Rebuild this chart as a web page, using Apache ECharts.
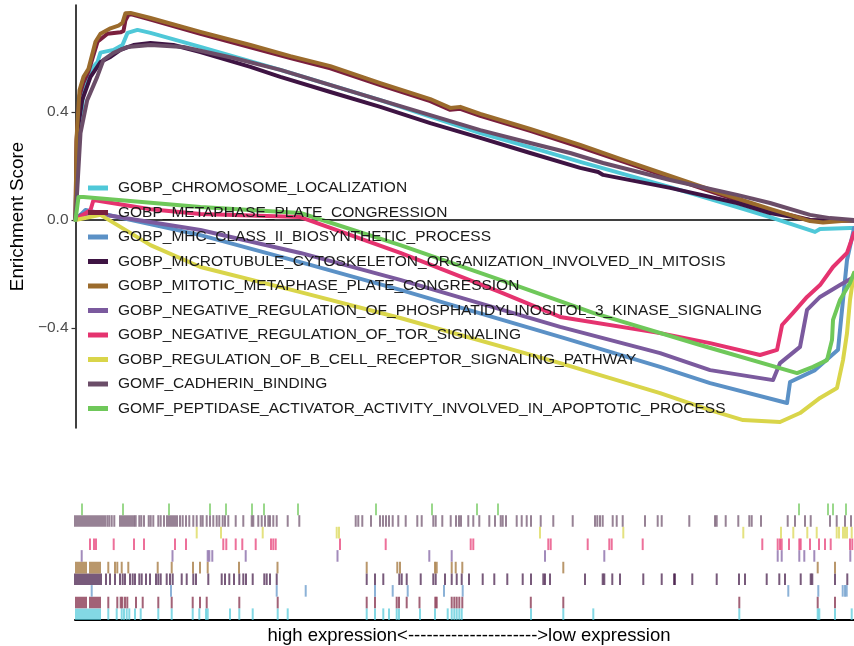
<!DOCTYPE html>
<html>
<head>
<meta charset="utf-8">
<title>GSEA running enrichment scores</title>
<script src="https://cdn.jsdelivr.net/npm/echarts@6/dist/echarts.min.js"></script>
<style>
  html, body { margin: 0; padding: 0; background: #ffffff; }
  #chart { width: 854px; height: 646px; }
</style>
</head>
<body>
<div id="chart"></div>
<script>
// Gene sets in legend order
const geneSets = [
  "GOBP_CHROMOSOME_LOCALIZATION",
  "GOBP_METAPHASE_PLATE_CONGRESSION",
  "GOBP_MHC_CLASS_II_BIOSYNTHETIC_PROCESS",
  "GOBP_MICROTUBULE_CYTOSKELETON_ORGANIZATION_INVOLVED_IN_MITOSIS",
  "GOBP_MITOTIC_METAPHASE_PLATE_CONGRESSION",
  "GOBP_NEGATIVE_REGULATION_OF_PHOSPHATIDYLINOSITOL_3_KINASE_SIGNALING",
  "GOBP_NEGATIVE_REGULATION_OF_TOR_SIGNALING",
  "GOBP_REGULATION_OF_B_CELL_RECEPTOR_SIGNALING_PATHWAY",
  "GOMF_CADHERIN_BINDING",
  "GOMF_PEPTIDASE_ACTIVATOR_ACTIVITY_INVOLVED_IN_APOPTOTIC_PROCESS"
];

// Ranked gene list length (position along the x axis)
const rankMax = 7790;

// Y axis tick values
const yTicks = [-0.4, 0, 0.4];

// Running enrichment score, [rank, score]
const esChromosome = [[0,0],[30,0.26],[80,0.48],[150,0.556],[220,0.585],[250,0.62],[380,0.63],[470,0.648],[520,0.693],[620,0.704],[750,0.693],[1250,0.641],[2050,0.556],[3050,0.444],[4050,0.322],[4650,0.259],[5050,0.215],[5950,0.122],[6620,0.048],[6950,0.011],[7400,-0.044],[7450,-0.033],[7750,-0.03],[7790,-0.03]];
const esMetaphase = [[0,0],[10,0.29],[40,0.46],[80,0.51],[130,0.55],[220,0.66],[320,0.69],[450,0.695],[480,0.70],[500,0.74],[530,0.76],[560,0.762],[750,0.742],[1250,0.690],[1750,0.640],[2150,0.600],[2550,0.562],[3050,0.500],[3550,0.440],[3750,0.408],[3850,0.412],[4050,0.386],[4550,0.330],[5050,0.270],[5450,0.220],[5950,0.157],[6450,0.094],[6950,0.036],[7350,0.0],[7480,-0.004],[7790,0]];
const esMhc = [[0,0],[100,0.037],[1250,-0.056],[2250,-0.156],[3250,-0.259],[4850,-0.433],[5850,-0.544],[6350,-0.604],[7120,-0.678],[7150,-0.600],[7400,-0.556],[7630,-0.481],[7680,-0.296],[7720,-0.148],[7780,-0.048],[7790,-0.03]];
const esMicrotubule = [[0,0],[17,0.322],[67,0.444],[150,0.53],[250,0.585],[350,0.604],[450,0.63],[580,0.648],[750,0.656],[980,0.648],[1250,0.622],[1750,0.567],[2050,0.530],[2550,0.474],[3050,0.419],[3550,0.359],[4050,0.304],[4550,0.248],[5050,0.193],[5230,0.178],[5280,0.167],[5950,0.119],[6620,0.063],[6950,0.026],[7350,0.0],[7790,-0.003]];
const esMitotic = [[0,0],[10,0.30],[40,0.48],[80,0.53],[130,0.56],[200,0.66],[250,0.69],[350,0.71],[430,0.72],[470,0.73],[500,0.766],[550,0.767],[750,0.748],[1250,0.697],[1750,0.648],[2150,0.607],[2550,0.570],[3050,0.507],[3550,0.448],[3750,0.415],[3850,0.419],[4050,0.393],[4550,0.337],[5050,0.278],[5450,0.226],[5950,0.163],[6450,0.100],[6950,0.041],[7350,-0.004],[7480,-0.009],[7790,0]];
const esPi3k = [[0,0],[50,0.019],[180,0.026],[1250,-0.037],[2250,-0.122],[3250,-0.222],[4850,-0.396],[5850,-0.493],[6350,-0.556],[6980,-0.593],[7050,-0.530],[7250,-0.470],[7320,-0.333],[7450,-0.285],[7650,-0.241],[7790,-0.211]];
const esTor = [[0,0],[150,0.037],[180,0.074],[750,0.04],[1250,0.022],[2250,0.011],[3250,-0.122],[4250,-0.267],[4850,-0.359],[5850,-0.419],[6350,-0.456],[6850,-0.500],[7020,-0.481],[7070,-0.389],[7180,-0.344],[7320,-0.285],[7450,-0.241],[7580,-0.174],[7720,-0.122],[7790,-0.048]];
const esBcell = [[0,0],[250,0.019],[750,-0.093],[1250,-0.174],[2250,-0.267],[3250,-0.363],[4850,-0.530],[5850,-0.641],[6350,-0.704],[6680,-0.741],[7050,-0.748],[7250,-0.715],[7450,-0.659],[7620,-0.622],[7680,-0.519],[7720,-0.419],[7750,-0.296],[7790,-0.196]];
const esCadherin = [[0,0],[50,0.322],[117,0.444],[217,0.53],[280,0.593],[380,0.619],[520,0.641],[750,0.648],[1080,0.641],[1580,0.600],[2050,0.556],[3050,0.444],[4050,0.333],[4550,0.285],[4950,0.248],[5280,0.211],[5950,0.148],[6620,0.093],[6950,0.063],[7350,0.019],[7550,0.007],[7790,0]];
const esPeptidase = [[0,0],[30,0.085],[80,0.085],[1250,0.048],[2250,0.026],[3250,-0.093],[4250,-0.222],[5180,-0.344],[6250,-0.463],[7220,-0.567],[7380,-0.544],[7520,-0.519],[7570,-0.444],[7580,-0.370],[7650,-0.296],[7750,-0.233],[7790,-0.196]];

// Ranks of member genes in the ranked list (hit positions)
const hitsChromosome = [10,30,50,70,90,110,130,150,170,190,210,230,250,333,417,467,490,517,543,600,657,833,967,1177,1243,1310,1327,1550,1643,1777,2027,2127,2917,3000,3083,3140,3217,3240,3450,3600,3727,3767,3793,3817,3843,3867,4560,4883,5183,6643,7427,7443,7600,7767];
const hitsMetaphase = [10,30,50,70,90,110,150,170,190,210,230,250,333,423,457,473,500,523,610,677,833,967,1177,1250,1317,1643,2027,2917,3000,3217,3240,3317,3445,3603,3617,3767,3793,3817,3843,3873,4558,4883,6643,7427,7600];
const hitsMhc = [167,960,2017,2307,3000,3177,3327,3690,3877,7133,7433,7677,7700,7717];
const hitsMicrotubule = [0,20,40,60,80,100,120,140,160,180,200,220,240,260,310,350,400,450,477,500,550,577,600,643,667,710,750,810,833,857,917,950,977,1067,1117,1183,1210,1333,1467,1500,1543,1590,1643,1683,1710,1777,1893,1917,1950,2017,2917,3000,3083,3243,3267,3317,3457,3583,3607,3700,3767,3817,3867,3940,4077,4193,4323,4477,4560,4683,4700,4750,5100,5277,5293,5373,5450,5683,5867,5990,6000,6173,6417,6640,6700,6917,7043,7100,7257,7357,7373,7600,7723];
const hitsMitotic = [10,30,50,70,90,110,150,170,190,210,230,250,333,400,423,467,533,827,967,1180,1250,1327,1640,2025,2917,3223,3250,3600,3617,3767,3807,3873,4883,7427,7600];
const hitsPi3k = [67,975,1327,1343,1373,1707,2625,3543,3767,4700,5293,7027,7067,7243,7293,7393,7753];
const hitsTor = [150,190,210,387,590,690,1000,1110,1483,1513,1607,1673,1807,1960,1983,2007,2650,3107,3957,3983,4733,4757,5127,5343,5367,5677,6873,7027,7050,7067,7140,7243,7257,7350,7440,7500,7557,7750,7773];
const hitsBcell = [1217,1460,1877,2617,2640,4650,5483,6683,7060,7183,7323,7417,7617,7640,7680,7700,7720,7767];
const hitsCadherin = [0,20,40,60,80,100,120,140,160,180,200,220,240,260,280,300,323,343,367,393,450,470,490,510,530,550,570,590,607,643,663,690,737,757,783,833,857,890,920,940,960,980,1000,1020,1050,1077,1110,1143,1183,1217,1257,1277,1317,1350,1383,1417,1443,1477,1500,1533,1607,1683,1767,1783,1833,1867,1900,1933,1950,1983,2017,2127,2243,2807,2833,2873,2960,3050,3080,3110,3140,3177,3233,3307,3423,3467,3583,3607,3673,3757,3810,3840,3860,3933,3983,4043,4143,4200,4257,4277,4310,4417,4467,4517,4560,4657,4783,4977,5200,5223,5250,5277,5377,5417,5477,5700,5827,5867,6143,6400,6417,6507,6633,6743,6767,6860,7127,7200,7300,7357,7550,7617,7700,7760];
const hitsPeptidase = [70,480,940,1350,1510,1770,1890,2230,3010,3570,4020,4230,7240,7530,7580,7710];

const scoreSeries = [esChromosome, esMetaphase, esMhc, esMicrotubule, esMitotic, esPi3k, esTor, esBcell, esCadherin, esPeptidase];
const hitSeries = [hitsChromosome, hitsMetaphase, hitsMhc, hitsMicrotubule, hitsMitotic, hitsPi3k, hitsTor, hitsBcell, hitsCadherin, hitsPeptidase];

const palette = ['#4fc8d8', '#7a1f3d', '#5b91c6', '#3e1443', '#9b6b2c', '#7b5a9e', '#e5336f', '#d9d54a', '#6b4d68', '#6fc85a'];

const FONT = '"Liberation Sans", Arial, Helvetica, sans-serif';

const lineSeries = geneSets.map((name, i) => ({
  name: name,
  type: 'line',
  xAxisIndex: 0,
  yAxisIndex: 0,
  data: scoreSeries[i],
  showSymbol: false,
  symbol: 'none',
  silent: true,
  color: palette[i],
  lineStyle: { width: 4, color: palette[i], join: 'round', cap: 'round' },
  z: 2
}));

const rugSeries = geneSets.map((name, i) => ({
  name: 'hits ' + name,
  type: 'scatter',
  xAxisIndex: 1,
  yAxisIndex: 1,
  data: hitSeries[i].map(r => [r, name]),
  symbol: 'rect',
  symbolSize: [2, 11.6],
  silent: true,
  itemStyle: { color: palette[i], opacity: 0.7 },
  z: 2
}));

const chart = echarts.init(document.getElementById('chart'), null, { renderer: 'canvas' });

chart.setOption({
  backgroundColor: '#ffffff',
  animation: false,
  textStyle: { fontFamily: FONT },
  legend: {
    data: geneSets,
    orient: 'vertical',
    left: 88,
    top: 180,
    padding: 0,
    itemWidth: 20,
    itemHeight: 15,
    itemGap: 8.5,
    icon: 'path://M0,0 L20,0 L20,5 L0,5 Z',
    selectedMode: false,
    textStyle: { fontFamily: FONT, fontSize: 15.5, color: '#1a1a1a', lineHeight: 15, padding: [0, 0, 0, 5] }
  },
  grid: [
    { left: 75, top: 5, width: 779, height: 423, containLabel: false },
    { left: 75, top: 503.5, width: 779, height: 116.5, containLabel: false }
  ],
  xAxis: [
    {
      type: 'value', gridIndex: 0, min: 0, max: rankMax,
      axisLine: { show: true, onZero: true, lineStyle: { color: '#000000', width: 1.5 } },
      axisTick: { show: false }, axisLabel: { show: false }, splitLine: { show: false }
    },
    {
      type: 'value', gridIndex: 1, min: 0, max: rankMax,
      name: 'high expression<--------------------->low expression',
      nameLocation: 'middle',
      nameGap: 6,
      nameTextStyle: { fontFamily: FONT, fontSize: 18.5, color: '#000000', verticalAlign: 'top', padding: [0, 0, 0, 9] },
      axisLine: { show: true, onZero: false, lineStyle: { color: '#000000', width: 2 } },
      axisTick: { show: false }, axisLabel: { show: false }, splitLine: { show: false }
    }
  ],
  yAxis: [
    {
      type: 'value', gridIndex: 0, min: -0.7704, max: 0.7963,
      name: 'Enrichment Score',
      nameLocation: 'middle',
      nameGap: 40,
      nameTextStyle: { fontFamily: FONT, fontSize: 18.8, color: '#000000', padding: [8, 0, 0, 0] },
      axisLine: { show: true, lineStyle: { color: '#000000', width: 1.5 } },
      axisTick: { show: true, length: 4, customValues: yTicks, lineStyle: { color: '#333333', width: 1.2 } },
      axisLabel: {
        show: true, customValues: yTicks, margin: 7,
        fontFamily: FONT, fontSize: 15.5, color: '#4d4d4d',
        formatter: v => (v < 0 ? '\u2212' : '') + Math.abs(v).toFixed(1)
      },
      splitLine: { show: false }
    },
    {
      type: 'category', gridIndex: 1, data: geneSets,
      axisLine: { show: false }, axisTick: { show: false }, axisLabel: { show: false }, splitLine: { show: false }
    }
  ],
  series: lineSeries.concat(rugSeries)
});
</script>
</body>
</html>
